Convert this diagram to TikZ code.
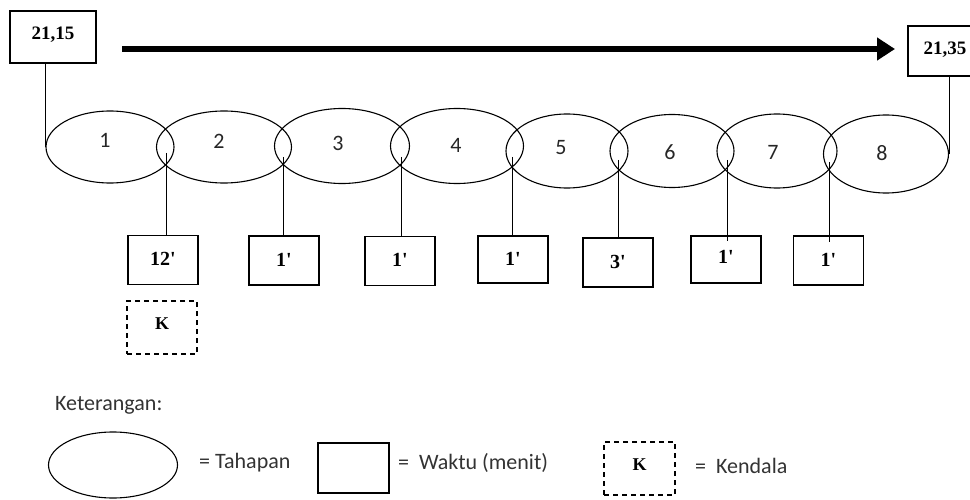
\documentclass[tikz,border=0pt]{standalone}
\usepackage{fontspec}
\setmainfont{Liberation Serif}
\newfontfamily\calibri{Carlito}
\usetikzlibrary{shapes.geometric,arrows.meta}
\newcommand{\mins}[1]{#1\textquotesingle}

\begin{document}
\begin{tikzpicture}[x=1pt,y=-1pt,
  stage/.style={draw, line width=1.1pt, ellipse, minimum width=#1, minimum height=73pt, inner sep=0pt},
  stage/.default=128pt,
  stagenum/.style={font=\calibri\fontsize{22}{26}\selectfont, text=black!85},
  timebox/.style={draw, line width=1.2pt, minimum width=70pt, minimum height=49pt, inner sep=0pt,
    font=\bfseries\fontsize{20}{23}\selectfont},
  clockbox/.style={draw, line width=1.2pt, inner sep=0pt,
    font=\bfseries\fontsize{19}{22}\selectfont},
  issuebox/.style={draw, line width=1.6pt, dash pattern=on 5pt off 4pt, minimum width=70pt,
    minimum height=53pt, inner sep=0pt, font=\bfseries\fontsize{18}{21}\selectfont},
  link/.style={draw, line width=1pt},
  legendtext/.style={font=\calibri\fontsize{22}{26}\selectfont, text=black!80, anchor=west, inner sep=0pt}
]
\useasboundingbox (0,0) rectangle (970,500);
\clip (0,0) rectangle (970,500);

% start and end clock times
\node[clockbox, minimum width=86pt, minimum height=52pt] (t0) at (53,37) {\raisebox{7pt}{21,15}};
\node[clockbox, minimum width=74pt, minimum height=50pt] (t1) at (945,51) {\raisebox{6pt}{21,35}};

% overall time arrow
\coordinate (a0) at (122,49);
\coordinate (a1) at (895,49);
\draw[line width=6pt, -{Triangle[length=18pt,width=22pt]}] (a0) -- (a1);

% stages
\node[stage=128pt, minimum height=72pt] (e1) at (110,147) {};
\node[stage=135pt, minimum height=72pt] (e2) at (224,147) {};
\node[stage=135pt, minimum height=75pt] (e3) at (342,146) {};
\node[stage=133pt, minimum height=75pt] (e4) at (457,146) {};
\node[stage=122pt, minimum height=74pt] (e5) at (567,151) {};
\node[stage=124pt, minimum height=73pt] (e6) at (672,151) {};
\node[stage=120pt, minimum height=74pt] (e7) at (777,151) {};
\node[stage=125pt, minimum height=78pt] (e8) at (886,154) {};

\node[stagenum] (n1) at (105,140) {1};
\node[stagenum] (n2) at (219,141) {2};
\node[stagenum] (n3) at (338,143) {3};
\node[stagenum] (n4) at (456,145) {4};
\node[stagenum] (n5) at (561,148) {5};
\node[stagenum] (n6) at (670,152) {6};
\node[stagenum] (n7) at (773,152) {7};
\node[stagenum] (n8) at (882,153) {8};

% clock times tied to first and last stage
\draw[link] (e1.west |- t0.south) -- (e1.west);
\draw[link] (e8.east |- t1.south) -- (e8.east);

% durations between stages
\node[timebox] (b1) at (163,260) {\raisebox{3pt}{\mins{12}}};
\node[timebox] (b2) at (284,260.5) {\raisebox{2pt}{\mins{1}}};
\node[timebox] (b3) at (400,261) {\raisebox{2pt}{\mins{1}}};
\node[timebox, minimum height=47pt] (b4) at (513,259.5) {\raisebox{2pt}{\mins{1}}};
\node[timebox] (b5) at (618,262.5) {\raisebox{2pt}{\mins{3}}};
\node[timebox, minimum height=47pt] (b6) at (726,259.5) {\raisebox{5pt}{\mins{1}}};
\node[timebox] (b7) at (828.5,260.5) {\raisebox{2pt}{\mins{1}}};

\coordinate (c1) at (166,153);
\coordinate (c2) at (283,157);
\coordinate (c3) at (401,157);
\coordinate (c4) at (512,157);
\coordinate (c5) at (618,160);
\coordinate (c6) at (727,160);
\coordinate (c7) at (829,162);

\draw[link] (c1) -- (c1 |- b1.north);
\draw[link] (c2) -- (c2 |- b2.north);
\draw[link] (c3) -- (c3 |- b3.north);
\draw[link] (c4) -- (c4 |- b4.north);
\draw[link] (c5) -- (c5 |- b5.north);
\draw[link] (c6) -- ([yshift=-6pt]c6 |- b6.north);
\draw[link] (c7) -- ([yshift=-7pt]c7 |- b7.north);

% obstacle marker
\node[issuebox] (k1) at (162,327.5) {\raisebox{7pt}{K}};

% legend
\node[legendtext] (kt) at (55,405) {Keterangan:};
\node[draw, line width=1.1pt, ellipse, minimum width=129pt, minimum height=66pt, inner sep=0pt] (lg1) at (113,465) {};
\node[legendtext] (lt1) at (199,463) {= Tahapan};
\node[draw, line width=1.2pt, minimum width=71pt, minimum height=50pt, inner sep=0pt] (lg2) at (353.5,468) {};
\node[legendtext] (lt2) at (398,463) {=\ \ Waktu (menit)};
\node[issuebox, minimum width=71pt] (lg3) at (639.5,468.5) {\raisebox{8pt}{K}};
\node[legendtext] (lt3) at (695,466) {=\ \ Kendala};
\end{tikzpicture}
\end{document}
